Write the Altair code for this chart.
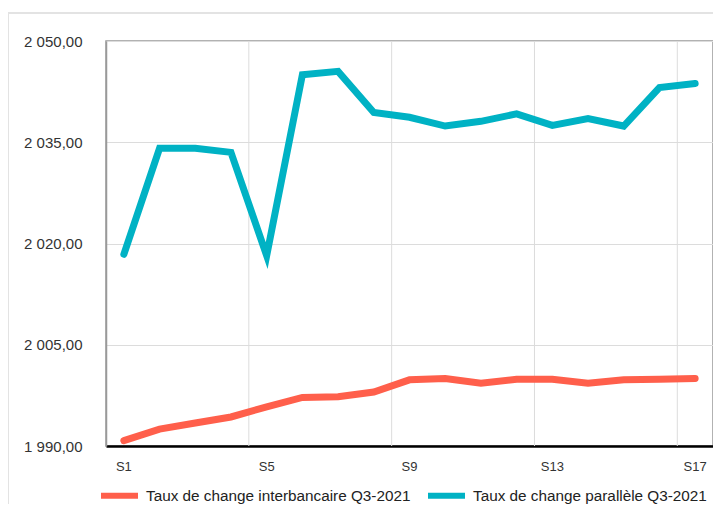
import altair as alt
import pandas as pd

weeks = [f"S{i}" for i in range(1, 18)]
interbank = [1990.8, 1992.5, 1993.4, 1994.3, 1995.8, 1997.2, 1997.3, 1998.0, 1999.8,
             2000.0, 1999.3, 1999.9, 1999.9, 1999.3, 1999.8, 1999.9, 2000.0]
parallel = [2018.4, 2034.1, 2034.1, 2033.5, 2018.2, 2045.0, 2045.5, 2039.4, 2038.7,
            2037.4, 2038.1, 2039.2, 2037.5, 2038.5, 2037.4, 2043.1, 2043.7]
series_names = ["Taux de change interbancaire Q3-2021", "Taux de change parallèle Q3-2021"]
colors = ["#FF5F4B", "#00B2C4"]
y_ticks = [1990, 2005, 2020, 2035, 2050]
x_label_weeks = ["S1", "S5", "S9", "S13", "S17"]
grid_weeks = ["S4", "S8", "S12", "S16"]

df = pd.DataFrame({
    "week": weeks * 2,
    "value": interbank + parallel,
    "series": [series_names[0]] * len(weeks) + [series_names[1]] * len(weeks),
})
grid_df = pd.DataFrame({"week": grid_weeks})

x_scale = alt.Scale(type="band", domain=weeks, paddingInner=0, paddingOuter=0)
x_axis = alt.Axis(values=x_label_weeks, grid=False, ticks=False, bandPosition=0.5,
                  labelAlign="center",
                  domainColor="#000000", domainWidth=2.5,
                  labelPadding=14, labelFontSize=13, labelColor="#333333",
                  labelAngle=0, title=None)

lines = alt.Chart(df).mark_line(strokeWidth=7, strokeCap="round").encode(
    x=alt.X("week:N", sort=weeks, scale=x_scale, axis=x_axis),
    y=alt.Y("value:Q",
            scale=alt.Scale(domain=[1990, 2050], nice=False, zero=False),
            axis=alt.Axis(values=y_ticks,
                          labelExpr="replace(replace(format(datum.value, ',.2f'), ',', ' '), '.', ',')",
                          ticks=False, domainColor="#999999", domainWidth=1.5,
                          gridColor="#dcdcdc", gridWidth=1,
                          labelPadding=24, labelFontSize=15, labelColor="#333333",
                          title=None)),
    color=alt.Color("series:N",
                    scale=alt.Scale(domain=series_names, range=colors),
                    legend=alt.Legend(orient="none", legendX=-8, legendY=433,
                                      direction="horizontal", symbolType="stroke",
                                      symbolStrokeWidth=6, symbolSize=1369,
                                      labelFontSize=15.3, labelLimit=400, labelOffset=5,
                                      labelColor="#222222",
                                      columnPadding=5, title=None)),
)

vgrid = alt.Chart(grid_df).mark_rule(color="#dcdcdc", strokeWidth=1).encode(
    x=alt.X("week:N", sort=weeks, scale=x_scale, bandPosition=1, axis=x_axis),
)

frame_top = alt.Chart(alt.Data(values=[{}])).mark_rule(color="#e3e3e3", strokeWidth=2).encode(
    x=alt.value(-98), x2=alt.value(620), y=alt.value(-28))
frame_left = alt.Chart(alt.Data(values=[{}])).mark_rule(color="#e3e3e3", strokeWidth=2).encode(
    x=alt.value(-98), y=alt.value(-28), y2=alt.value(480))

chart = alt.layer(frame_top, frame_left, vgrid, lines).properties(
    width=607, height=405,
    padding={"left": 98, "top": 33, "right": 0, "bottom": 58},
    autosize=alt.AutoSizeParams(type="none"),
).configure(font="Liberation Sans").configure_view(stroke="#999999", strokeWidth=1.5)

chart.save("out.html", embed_options={"renderer": "svg", "actions": False})
